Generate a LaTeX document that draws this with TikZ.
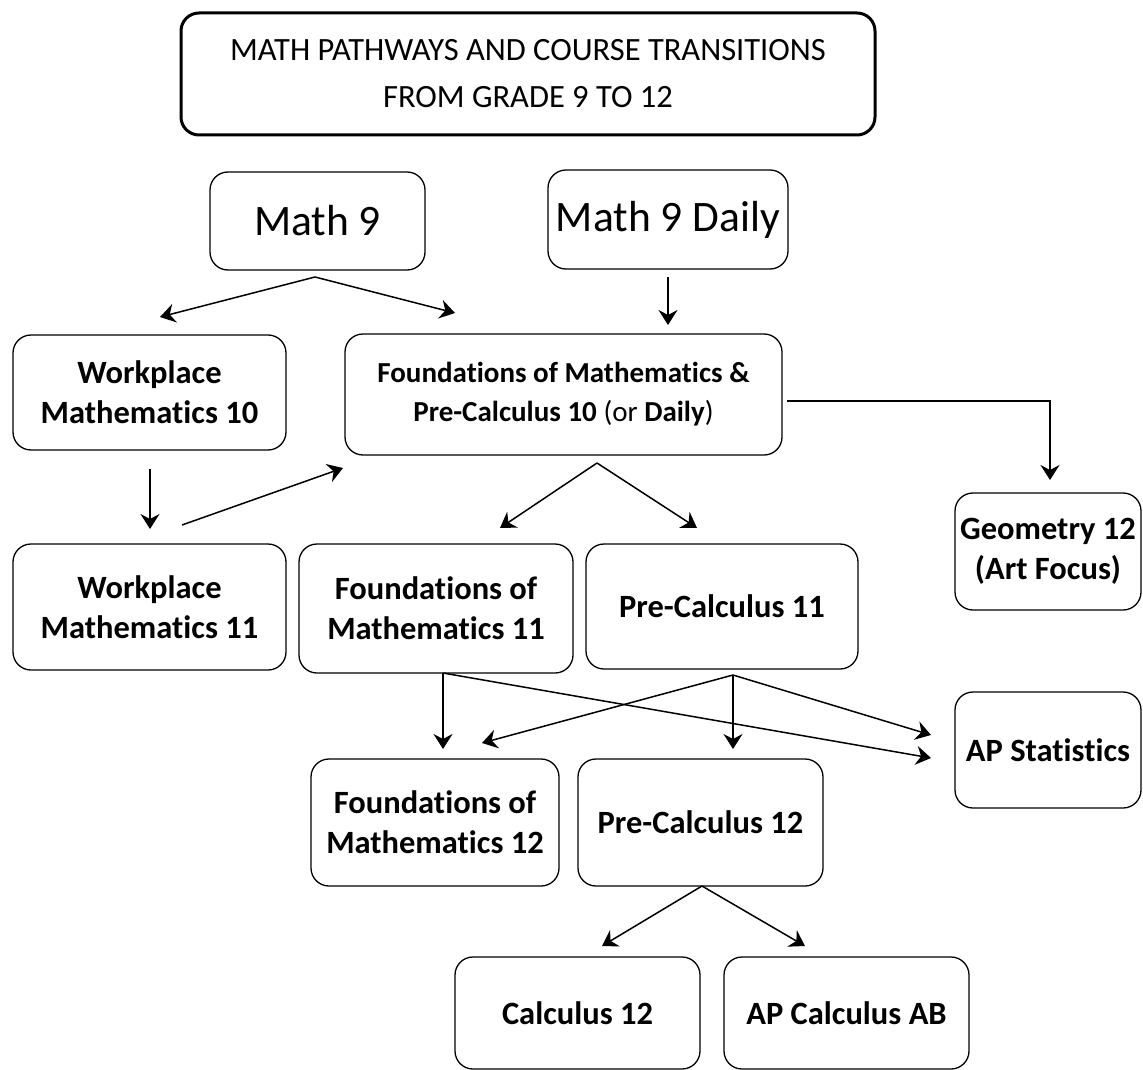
\documentclass[tikz,border=0pt]{standalone}
\usepackage{fontspec}
\setmainfont{Carlito}[RawFeature={-liga,-dlig,-clig}]
\usetikzlibrary{arrows.meta}
\begin{document}
\begin{tikzpicture}[x=1pt,y=-1pt,
  box/.style={draw, line width=1.3pt, rounded corners=18pt, inner sep=0pt, align=center,
    font=\fontsize{32.5}{40}\selectfont\bfseries},
  titlebox/.style={draw, line width=3pt, rounded corners=18pt, inner sep=0pt, align=center,
    font=\fontsize{32.5}{47}\selectfont},
  bigbox/.style={box, font=\fontsize{43.5}{50}\selectfont},
  arr/.style={line width=1.5pt, -{Stealth[length=15pt,width=19pt,inset=5pt]}}]
\useasboundingbox (0,0) rectangle (1143,1070);
% nodes
\node[titlebox, minimum width=694pt, minimum height=122pt] (title) at (528,74)
  {MATH PATHWAYS AND COURSE TRANSITIONS\\FROM GRADE 9 TO 12};
\node[bigbox, minimum width=215pt, minimum height=98pt] (m9) at (317.5,221) {Math 9};
\node[bigbox, minimum width=240pt, minimum height=99pt] (m9d) at (668,219.5) {Math 9 Daily};
\node[box, minimum width=273pt, minimum height=115pt] (w10) at (149.5,392.5) {Workplace\\Mathematics 10};
\node[box, minimum width=437pt, minimum height=121pt, font=\fontsize{29}{39}\selectfont\bfseries] (f10) at (563.5,394.5)
  {Foundations of Mathematics \&\\Pre-Calculus 10 {\mdseries(or} Daily{\mdseries)}};
\node[box, minimum width=186pt, minimum height=117pt] (geo) at (1048,551.5) {Geometry 12\\(Art Focus)};
\node[box, minimum width=273pt, minimum height=126pt] (w11) at (149.5,607) {Workplace\\Mathematics 11};
\node[box, minimum width=274pt, minimum height=129pt] (f11) at (436,608.5) {Foundations of\\Mathematics 11};
\node[box, minimum width=272pt, minimum height=125pt] (pc11) at (722,606.5) {Pre-Calculus 11};
\node[box, minimum width=186pt, minimum height=116pt] (aps) at (1048,750) {AP Statistics};
\node[box, minimum width=248pt, minimum height=127pt] (f12) at (435,822.5) {Foundations of\\Mathematics 12};
\node[box, minimum width=245pt, minimum height=127pt] (pc12) at (700.5,822.5) {Pre-Calculus 12};
\node[box, minimum width=245pt, minimum height=112pt] (c12) at (577.5,1013) {Calculus 12};
\node[box, minimum width=245pt, minimum height=112pt] (apc) at (846.5,1013) {AP Calculus AB};
% connector points
\coordinate (a1) at (315,277); \coordinate (a2) at (160,317); \coordinate (a3) at (455,313);
\coordinate (b1) at (668,277); \coordinate (b2) at (668,325);
\coordinate (c1) at (150,469); \coordinate (c2) at (150,529);
\coordinate (d1) at (182,525); \coordinate (d2) at (343,468);
\coordinate (e1) at (787,401); \coordinate (e2) at (1050,401); \coordinate (e3) at (1050,480);
\coordinate (f1) at (597,463); \coordinate (f2) at (500,528); \coordinate (f3) at (697,528);
\coordinate (g1) at (443,673); \coordinate (g2) at (443,749); \coordinate (g3) at (931,758);
\coordinate (h1) at (733,675); \coordinate (h2) at (482,743); \coordinate (h3) at (733,749); \coordinate (h4) at (931,735);
\coordinate (i1) at (702,886); \coordinate (i2) at (602,946); \coordinate (i3) at (805,946);
% connectors
\draw[arr] (a1) -- (a2);
\draw[arr] (a1) -- (a3);
\draw[arr] (b1) -- (b2);
\draw[arr] (c1) -- (c2);
\draw[arr] (d1) -- (d2);
\draw[arr] (e1) -- (e2) -- (e3);
\draw[arr] (f1) -- (f2);
\draw[arr] (f1) -- (f3);
\draw[arr] (g1) -- (g2);
\draw[arr] (g1) -- (g3);
\draw[arr] (h1) -- (h2);
\draw[arr] (h1) -- (h3);
\draw[arr] (h1) -- (h4);
\draw[arr] (i1) -- (i2);
\draw[arr] (i1) -- (i3);
\end{tikzpicture}
\end{document}
